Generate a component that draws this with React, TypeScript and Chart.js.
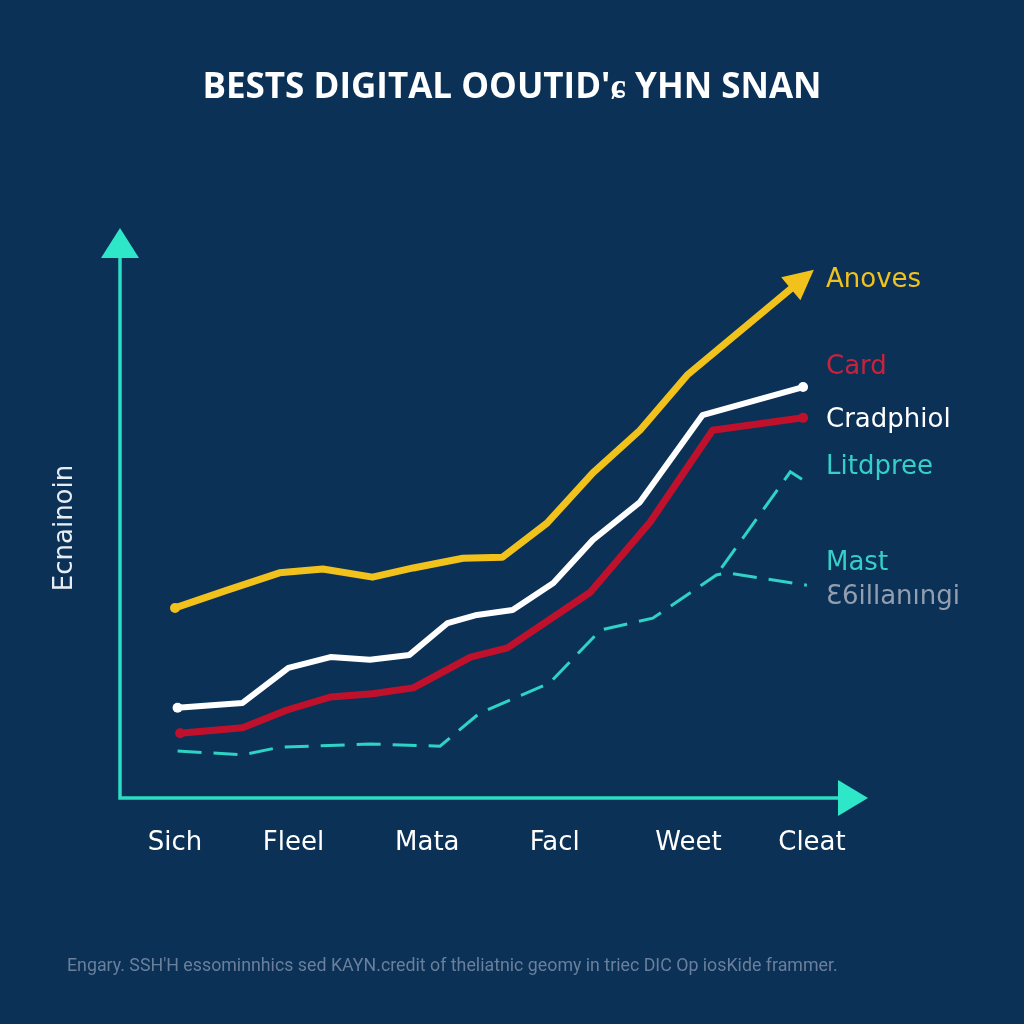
import React, { useEffect, useRef } from 'react';
import { Chart, registerables } from 'chart.js';

Chart.register(...registerables);

const TITLE = "BESTS DIGITAL OOUTID'ɕ YHN SNAN";
const Y_TITLE = 'Ecnainoin';
const FOOTER = "Engary. SSH'H essominnhics sed KAYN.credit of theliatnic geomy in triec DIC Op iosKide frammer.";

const X_LABELS = ['Sich', 'Fleel', 'Mata', 'Facl', 'Weet', 'Cleat'];
const X_TICK_POS = [0, 0.93, 1.98, 2.98, 4.03, 5.0];

const ANOVES_X = [0, 0.41, 0.82, 1.16, 1.55, 1.87, 2.26, 2.57, 2.92, 3.28, 3.65, 4.02, 4.87];
const ANOVES_Y = [35.2, 38.5, 41.7, 42.4, 40.9, 42.6, 44.4, 44.6, 50.9, 60.2, 68.1, 78.3, 95.0];

const CRAD_X = [0.02, 0.53, 0.89, 1.22, 1.53, 1.84, 2.14, 2.37, 2.65, 2.97, 3.28, 3.65, 4.14, 4.93];
const CRAD_Y = [16.7, 17.6, 24.1, 26.1, 25.6, 26.5, 32.4, 33.9, 34.8, 39.8, 47.8, 54.8, 70.9, 76.1];

const CARD_X = [0.04, 0.53, 0.88, 1.22, 1.55, 1.87, 2.32, 2.61, 3.26, 3.73, 4.22, 4.93];
const CARD_Y = [12.0, 13.0, 16.3, 18.7, 19.3, 20.4, 26.1, 27.8, 38.1, 51.1, 68.1, 70.4];

const MAST_X = [0.02, 0.53, 0.82, 1.53, 2.08, 2.39, 2.94, 3.34, 3.75, 4.25, 4.33, 4.96];
const MAST_Y = [8.7, 8.0, 9.4, 10.0, 9.6, 15.7, 21.3, 31.1, 33.3, 41.3, 41.7, 39.4];

const LITD_X = [4.29, 4.83, 4.97];
const LITD_Y = [42.6, 60.4, 58.3];

const X_MIN = -0.432;
const X_MAX = 5.22;

const BG = '#0b3157';
const TEAL_AXIS = '#2ddcc4';

const LABELS = [
  { text: 'Anoves', color: '#f2c21c', y: 280 },
  { text: 'Card', color: '#c8223c', y: 367 },
  { text: 'Cradphiol', color: '#ffffff', y: 420 },
  { text: 'Litdpree', color: '#36cfc8', y: 467 },
  { text: 'Mast', color: '#36cfc8', y: 563 },
  { text: 'Ɛ6illanıngi', color: '#939fb0', y: 597 },
];

const zip = (xs: number[], ys: number[]) => xs.map((x, i) => ({ x, y: ys[i] }));

const endDots = (n: number, both: boolean) => (ctx: any) =>
  ctx.dataIndex === 0 || (both && ctx.dataIndex === n - 1) ? 5 : 0;

const decor = {
  id: 'decor',
  beforeDraw(chart: any) {
    const { ctx, width, height } = chart;
    ctx.save();
    ctx.fillStyle = BG;
    ctx.fillRect(0, 0, width, height);
    ctx.restore();
  },
  beforeDatasetsDraw(chart: any) {
    const { ctx, chartArea } = chart;
    const { left, bottom, top, right } = chartArea;
    ctx.save();
    ctx.strokeStyle = TEAL_AXIS;
    ctx.lineWidth = 3.5;
    ctx.beginPath();
    ctx.moveTo(left, top);
    ctx.lineTo(left, bottom);
    ctx.lineTo(right, bottom);
    ctx.stroke();
    ctx.fillStyle = '#2ee6c8';
    ctx.beginPath();
    ctx.moveTo(left, top - 30);
    ctx.lineTo(left - 19, top);
    ctx.lineTo(left + 19, top);
    ctx.closePath();
    ctx.fill();
    ctx.beginPath();
    ctx.moveTo(right + 28, bottom);
    ctx.lineTo(right - 2, bottom - 18);
    ctx.lineTo(right - 2, bottom + 18);
    ctx.closePath();
    ctx.fill();
    ctx.restore();
  },
  afterDatasetsDraw(chart: any) {
    const { ctx } = chart;
    const meta = chart.getDatasetMeta(0);
    const pts = meta.data;
    const p1 = pts[pts.length - 1];
    const p0 = pts[pts.length - 2];
    const a = Math.atan2(p1.y - p0.y, p1.x - p0.x);
    ctx.save();
    ctx.translate(p1.x, p1.y);
    ctx.rotate(a);
    ctx.fillStyle = '#f2c21c';
    ctx.beginPath();
    ctx.moveTo(24, 0);
    ctx.lineTo(-6, -15);
    ctx.lineTo(-6, 15);
    ctx.closePath();
    ctx.fill();
    ctx.restore();
  },
  afterDraw(chart: any) {
    const { ctx } = chart;
    ctx.save();
    ctx.textBaseline = 'middle';
    ctx.textAlign = 'left';
    ctx.font = '26px "DejaVu Sans"';
    LABELS.forEach((l) => {
      ctx.fillStyle = l.color;
      ctx.fillText(l.text, 826, l.y);
    });
    ctx.font = '17.8px Roboto';
    ctx.fillStyle = '#6a7f9b';
    ctx.fillText(FOOTER, 67, 967);
    ctx.restore();
  },
};

export default function App() {
  const ref = useRef<HTMLCanvasElement | null>(null);

  useEffect(() => {
    document.body.style.margin = '0';
    document.body.style.background = BG;
    const canvas = ref.current;
    if (!canvas) return;
    const chart = new Chart(canvas, {
      type: 'line',
      data: {
        datasets: [
          {
            label: 'Anoves',
            data: zip(ANOVES_X, ANOVES_Y),
            borderColor: '#f2c21c',
            backgroundColor: '#f2c21c',
            borderWidth: 7,
            pointRadius: endDots(ANOVES_X.length, false),
            pointBorderWidth: 0,
            borderJoinStyle: 'round',
            tension: 0,
          },
          {
            label: 'Cradphiol',
            data: zip(CRAD_X, CRAD_Y),
            borderColor: '#ffffff',
            backgroundColor: '#ffffff',
            borderWidth: 6,
            pointRadius: endDots(CRAD_X.length, true),
            pointBorderWidth: 0,
            borderJoinStyle: 'round',
            tension: 0,
          },
          {
            label: 'Card',
            data: zip(CARD_X, CARD_Y),
            borderColor: '#c0112c',
            backgroundColor: '#c0112c',
            borderWidth: 7,
            pointRadius: endDots(CARD_X.length, true),
            pointBorderWidth: 0,
            borderJoinStyle: 'round',
            tension: 0,
          },
          {
            label: 'Mast',
            data: zip(MAST_X, MAST_Y),
            borderColor: '#2fd3c6',
            borderWidth: 3,
            borderDash: [24, 12],
            pointRadius: 0,
            tension: 0,
          },
          {
            label: 'Litdpree',
            data: zip(LITD_X, LITD_Y),
            borderColor: '#2fd3c6',
            borderWidth: 3,
            borderDash: [24, 12],
            pointRadius: 0,
            tension: 0,
          },
        ],
      },
      options: {
        responsive: true,
        maintainAspectRatio: false,
        animation: false,
        layout: { padding: 0 },
        plugins: {
          legend: { display: false },
          tooltip: { enabled: false },
          title: {
            display: true,
            text: TITLE,
            color: '#ffffff',
            font: { family: '"Open Sans"', size: 35, weight: 'bold' },
            padding: { top: 67, bottom: 149 },
          },
        },
        scales: {
          x: {
            type: 'linear',
            min: X_MIN,
            max: X_MAX,
            grid: { display: false, drawTicks: false },
            border: { display: false },
            afterBuildTicks: (s: any) => {
              s.ticks = X_TICK_POS.map((v) => ({ value: v }));
            },
            ticks: {
              color: '#ffffff',
              font: { family: '"DejaVu Sans"', size: 26 },
              padding: 30,
              autoSkip: false,
              maxRotation: 0,
              callback: (_v: any, i: number) => X_LABELS[i],
            },
            afterFit: (s: any) => {
              s.height = 226;
            },
          },
          y: {
            min: 0,
            max: 100,
            grid: { display: false },
            border: { display: false },
            ticks: { display: false },
            title: {
              display: true,
              text: Y_TITLE,
              color: '#e6edf5',
              font: { family: '"DejaVu Sans"', size: 26 },
              padding: { top: 50, bottom: 0 },
            },
            afterFit: (s: any) => {
              s.width = 120;
            },
          },
          yRight: {
            position: 'right',
            display: true,
            min: 0,
            max: 100,
            grid: { display: false },
            border: { display: false },
            ticks: { display: false },
            afterFit: (s: any) => {
              s.width = 184;
            },
          },
        },
      },
      plugins: [decor],
    });
    return () => chart.destroy();
  }, []);

  return (
    <div style={{ width: 1024, height: 1024, background: BG }}>
      <canvas ref={ref} />
    </div>
  );
}
